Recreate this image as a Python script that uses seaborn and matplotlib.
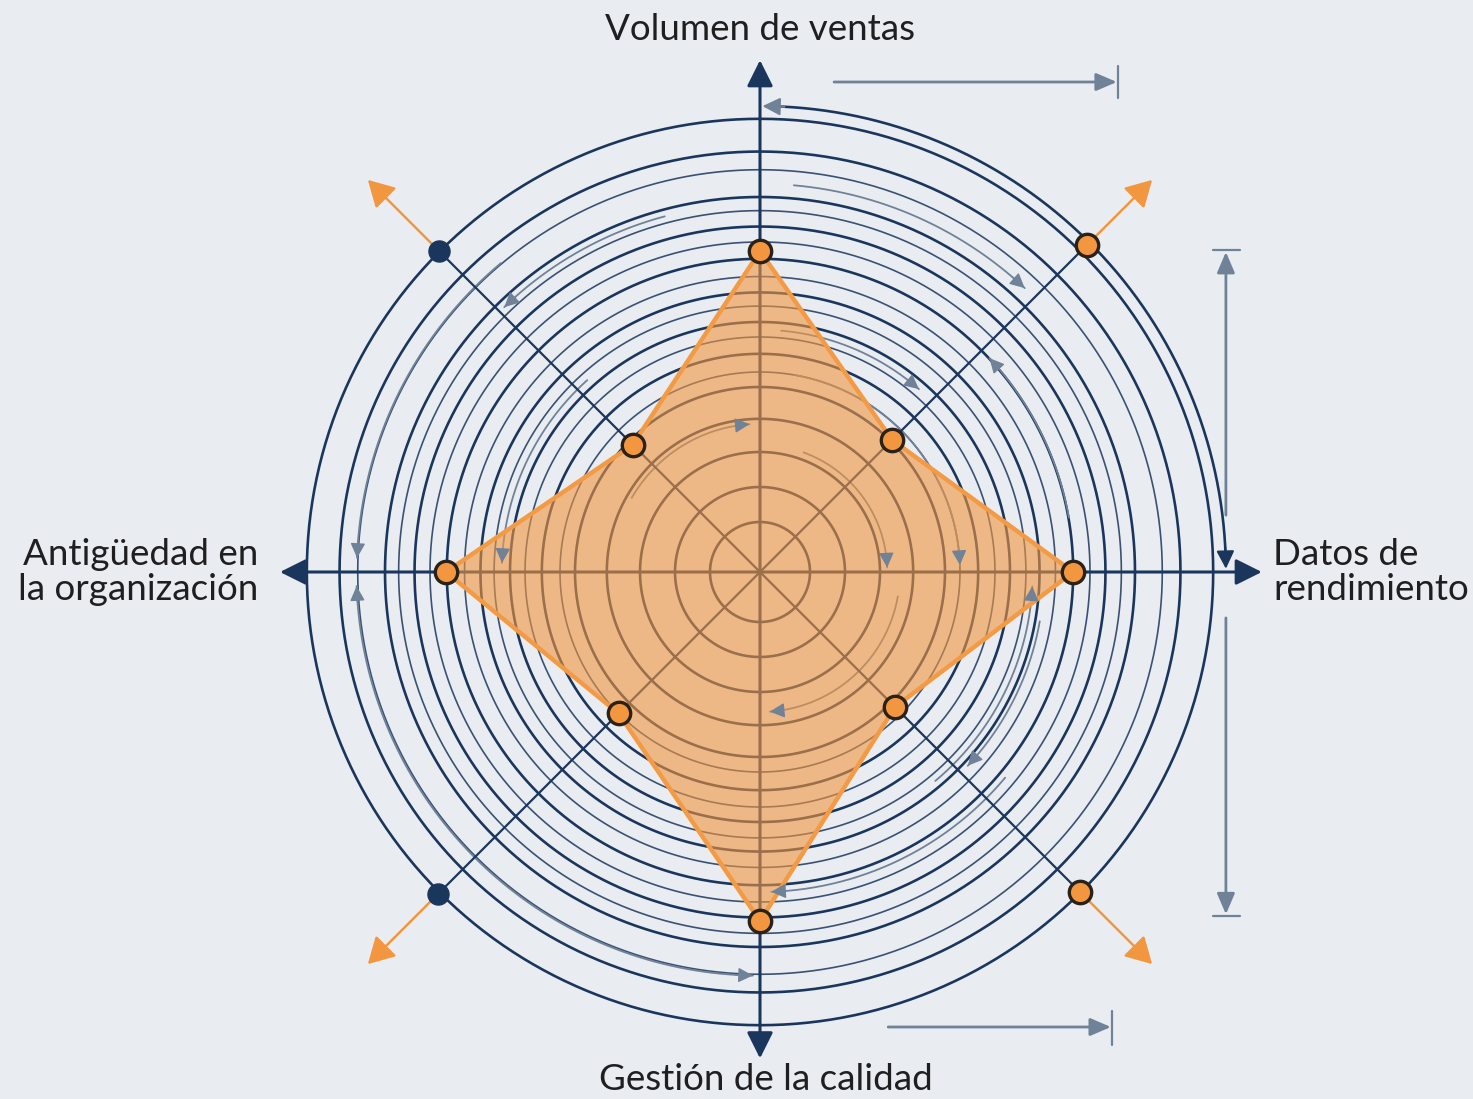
import numpy as np
import matplotlib
matplotlib.use("Agg")
import matplotlib.pyplot as plt
import seaborn as sns

# radar spokes, clockwise from the top, in degrees
spoke_angles = [0, 45, 90, 135, 180, 225, 270, 315]
scores = [7.06, 4.11, 6.89, 4.20, 7.68, 4.40, 6.91, 3.96]

axis_angles = [0, 90, 180, 270]
axis_lengths = [11.26, 11.04, 10.70, 10.56]

diag_angles = [45, 135, 225, 315]
diag_outer = [10.16, 9.97, 10.03, 10.00]
diag_kind = ["orange", "orange", "navy", "navy"]

major_rings = [1.1, 1.87, 2.64, 3.37, 4.07, 4.8, 5.5, 6.15, 6.89, 7.6, 8.25, 9.25, 9.97]
minor_rings = [4.4, 5.17, 5.85, 6.5, 7.26, 7.95, 8.85]

# thin guide arcs: radius, start angle, end angle, head at start, head at end
guide_arcs = [
    (8.87, 320, 272, False, True),
    (5.68, 318, 272, False, True),
    (8.10, 345, 316, False, True),
    (3.26, 300, 356, False, True),
    (8.54, 5, 43, False, True),
    (5.33, 5, 41, False, True),
    (6.90, 80, 47, False, True),
    (4.40, 10, 88, False, True),
    (2.80, 20, 88, False, True),
    (6.00, 140, 93, False, True),
    (6.25, 100, 133, False, True),
    (3.08, 100, 176, False, True),
    (7.04, 130, 178, False, True),
    (8.88, 181, 268, True, True),
]

BG = "#e9edf1"
NAVY = "#1b365d"
ORANGE = "#f2963f"
GREY = "#708297"

sns.set_theme(style="white", rc={"figure.facecolor": BG, "axes.facecolor": "none"})
plt.rcParams["font.family"] = ["Lato", "DejaVu Sans"]

fig = plt.figure(figsize=(14.73, 10.99), dpi=100)
rect = [260 / 1473, 27 / 1099, 1000 / 1473, 1000 / 1099]
ax = fig.add_axes(rect, projection="polar")
ax.set_theta_zero_location("N")
ax.set_theta_direction(-1)
ax.set_ylim(0, 11)
ax.set_axis_off()

full = np.radians(np.linspace(0, 360, 721))
for r in major_rings:
    ax.plot(full, np.full_like(full, r), color=NAVY, lw=1.9, zorder=1)
for r in minor_rings:
    ax.plot(full, np.full_like(full, r), color=NAVY, lw=1.2, alpha=0.85, zorder=1)

# outer double-headed arc in the upper right quadrant
top = np.radians(np.linspace(1.5, 88.5, 200))
ax.plot(top, np.full_like(top, 10.25), color=NAVY, lw=1.9, zorder=1)


def head(a, t_from, t_to, r_from, r_to, color, scale, lw):
    a.annotate("", xy=(np.radians(t_to), r_to), xytext=(np.radians(t_from), r_from),
               arrowprops=dict(arrowstyle="-|>,head_length=0.6,head_width=0.3",
                               color=color, lw=lw, mutation_scale=scale,
                               shrinkA=0, shrinkB=0),
               annotation_clip=False, zorder=6)


head(ax, 3, 0.3, 10.25, 10.25, GREY, 18, 1.5)
head(ax, 87, 89.6, 10.25, 10.25, NAVY, 18, 1.5)

for r, t0, t1, h0, h1 in guide_arcs:
    th = np.radians(np.linspace(t0, t1, 150))
    ax.plot(th, np.full_like(th, r), color=GREY, lw=1.3, zorder=2)
    step = 2.5 if t1 > t0 else -2.5
    if h1:
        head(ax, t1 - step, t1, r, r, GREY, 15, 1.0)
    if h0:
        head(ax, t0 + step, t0, r, r, GREY, 15, 1.0)

# main axes with arrows
for t, length in zip(axis_angles, axis_lengths):
    ax.annotate("", xy=(np.radians(t), length), xytext=(np.radians(t), 0),
                arrowprops=dict(arrowstyle="-|>,head_length=0.8,head_width=0.4",
                                color=NAVY, lw=2.2, mutation_scale=20,
                                shrinkA=0, shrinkB=0),
                annotation_clip=False, zorder=2)

# diagonal spokes, outer markers and orange arrows
for t, r, kind in zip(diag_angles, diag_outer, diag_kind):
    ax.plot([np.radians(t)] * 2, [0, r], color=NAVY, lw=1.6, zorder=2)
    ax.annotate("", xy=(np.radians(t), 12.2), xytext=(np.radians(t), r),
                arrowprops=dict(arrowstyle="-|>,head_length=0.8,head_width=0.45",
                                color=ORANGE, lw=1.8, mutation_scale=20,
                                shrinkA=6, shrinkB=0),
                annotation_clip=False, zorder=2)

theta = np.radians(spoke_angles + [360])
closed = scores + scores[:1]
ax.fill(theta, closed, color=ORANGE, alpha=0.6, lw=0, zorder=3)
sns.lineplot(x=theta, y=closed, sort=False, estimator=None, color="#f39a45",
             lw=3.2, ax=ax, zorder=4)
sns.scatterplot(x=np.radians(spoke_angles), y=scores, s=260, color=ORANGE,
                edgecolor="#2a2118", linewidth=2.4, ax=ax, zorder=5)

outer_theta = np.radians(diag_angles)
for th, r, kind in zip(outer_theta, diag_outer, diag_kind):
    if kind == "orange":
        sns.scatterplot(x=[th], y=[r], s=260, color=ORANGE, edgecolor="#2a2118",
                        linewidth=2.4, ax=ax, zorder=5, clip_on=False)
    else:
        sns.scatterplot(x=[th], y=[r], s=230, color=NAVY, edgecolor=NAVY,
                        linewidth=1, ax=ax, zorder=5, clip_on=False)
ax.set_axis_off()

# dimension marks, same units as the radar
ax2 = fig.add_axes(rect)
ax2.set_xlim(-11, 11)
ax2.set_ylim(-11, 11)
ax2.set_axis_off()
dim = dict(arrowstyle="-|>,head_length=0.7,head_width=0.3", color=GREY, lw=2,
           mutation_scale=18, shrinkA=0, shrinkB=0)
ax2.annotate("", xy=(7.85, 10.78), xytext=(1.63, 10.78), arrowprops=dim, annotation_clip=False)
ax2.plot([7.87, 7.87], [10.43, 11.13], color=GREY, lw=1.6, clip_on=False)
ax2.annotate("", xy=(7.72, -10.01), xytext=(2.82, -10.01), arrowprops=dim, annotation_clip=False)
ax2.plot([7.75, 7.75], [-9.65, -10.4], color=GREY, lw=1.6, clip_on=False)
ax2.annotate("", xy=(10.25, 7.04), xytext=(10.25, 1.25), arrowprops=dim, annotation_clip=False)
ax2.plot([9.97, 10.56], [7.08, 7.08], color=GREY, lw=1.6, clip_on=False)
ax2.annotate("", xy=(10.25, -7.53), xytext=(10.25, -1.01), arrowprops=dim, annotation_clip=False)
ax2.plot([9.97, 10.56], [-7.57, -7.57], color=GREY, lw=1.6, clip_on=False)

TXT = "#1f1f21"
FS = 26.5
fig.text(760 / 1473, 1 - 30 / 1099, "Volumen de ventas", ha="center", va="center",
         fontsize=FS, color=TXT)
fig.text(766 / 1473, 1 - 1080 / 1099, "Gestión de la calidad", ha="center", va="center",
         fontsize=FS, color=TXT)
fig.text(1273 / 1473, 1 - 572 / 1099, "Datos de\nrendimiento", ha="left", va="center",
         fontsize=FS, color=TXT, linespacing=1.08)
fig.text(258 / 1473, 1 - 572 / 1099, "Antigüedad en\nla organización", ha="right",
         va="center", fontsize=FS, color=TXT, linespacing=1.08, multialignment="right")

fig.savefig("out.png", dpi=100, facecolor=BG)
